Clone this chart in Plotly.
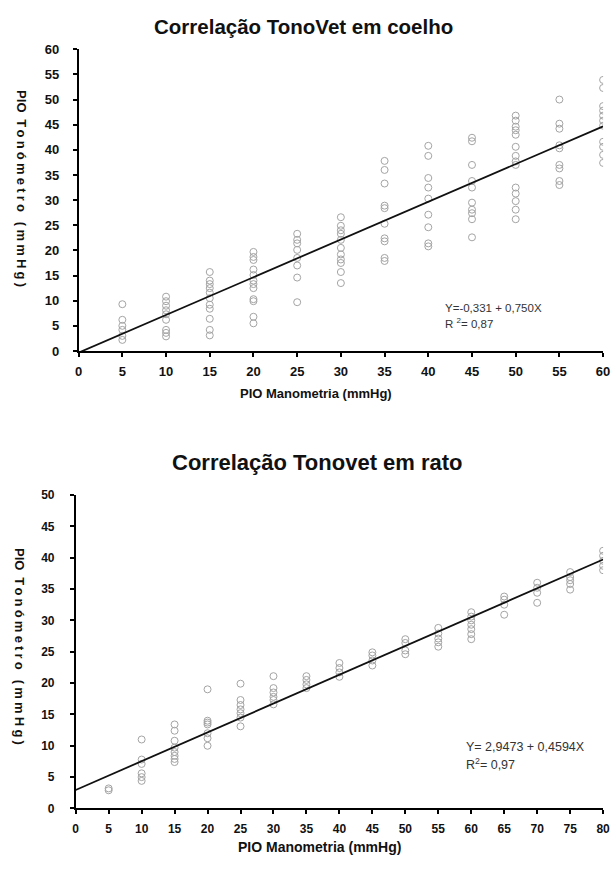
import plotly.graph_objects as go

# ---- Coelho (rabbit): manometry pressure levels and TonoVet readings ----
coelho_levels = [5, 10, 15, 20, 25, 30, 35, 40, 45, 50, 55, 60]
coelho_readings = [
    [9.3, 6.2, 5.0, 4.2, 3.0, 2.2],
    [10.8, 9.9, 9.0, 8.1, 7.3, 6.2, 4.2, 3.6, 2.9],
    [15.7, 14.0, 13.3, 12.5, 11.6, 10.5, 9.2, 8.4, 6.4, 4.2, 3.1],
    [19.7, 18.7, 18.1, 16.2, 15.1, 14.0, 13.3, 12.5, 10.3, 9.9, 6.8, 5.5],
    [23.3, 22.1, 21.4, 20.1, 18.5, 17.0, 14.6, 9.7],
    [26.6, 24.9, 24.0, 23.3, 22.1, 20.5, 19.2, 18.2, 17.5, 15.7, 13.5],
    [37.8, 36.0, 33.3, 28.9, 28.4, 25.3, 22.4, 21.8, 18.5, 17.9],
    [40.8, 38.8, 34.4, 32.5, 30.3, 27.1, 24.6, 21.4, 20.8],
    [42.4, 41.7, 37.0, 33.8, 32.5, 29.5, 28.1, 27.4, 26.2, 22.6],
    [46.8, 45.8, 44.6, 43.9, 43.0, 40.6, 38.8, 37.7, 37.0, 32.5, 31.3, 29.8, 28.1, 26.2],
    [50.0, 45.2, 44.2, 40.9, 40.3, 37.0, 36.3, 33.8, 33.0],
    [53.9, 52.3, 48.7, 47.8, 46.8, 45.8, 44.8, 41.6, 40.6, 39.0, 37.4],
]
coelho_intercept = -0.331
coelho_slope = 0.750
coelho_r2 = "0,87"

# ---- Rato (rat): manometry pressure levels and TonoVet readings ----
rato_levels = [5, 10, 15, 20, 25, 30, 35, 40, 45, 50, 55, 60, 65, 70, 75, 80]
rato_readings = [
    [3.2, 2.9],
    [11.0, 7.8, 7.1, 5.6, 5.0, 4.4],
    [13.4, 12.4, 10.8, 9.7, 9.0, 8.4, 7.9, 7.4],
    [19.0, 14.0, 13.7, 13.4, 12.0, 11.2, 10.0],
    [19.9, 17.3, 16.5, 15.8, 15.2, 14.5, 13.1],
    [21.1, 19.2, 18.5, 17.8, 17.3, 16.6],
    [21.1, 20.5, 19.8, 19.2],
    [23.2, 22.4, 21.7, 21.0],
    [24.9, 24.4, 23.6, 22.8],
    [27.0, 26.4, 25.2, 24.6],
    [28.8, 27.9, 27.1, 26.5, 25.8],
    [31.3, 30.6, 30.0, 29.3, 28.6, 27.8, 27.0],
    [33.8, 33.3, 32.5, 30.9],
    [36.0, 35.2, 34.4, 32.8],
    [37.7, 36.9, 36.4, 35.8, 34.9],
    [41.1, 40.3, 39.5, 38.7, 38.0],
]
rato_intercept = 2.9473
rato_slope = 0.4594
rato_r2 = "0,97"

W, H = 616, 872
FONT = "Liberation Sans, Arial, sans-serif"


def flatten(levels, readings):
    xs, ys = [], []
    for lv, vals in zip(levels, readings):
        xs.extend([lv] * len(vals))
        ys.extend(vals)
    return xs, ys


def px_x(p):
    return p / W


def px_y(p):
    return 1 - p / H


fig = go.Figure()

marker_style = dict(symbol="circle-open", size=7, color="#a4a4a4", line=dict(width=1, color="#a4a4a4"))

cx, cy = flatten(coelho_levels, coelho_readings)
fig.add_trace(go.Scatter(x=cx, y=cy, mode="markers", marker=marker_style,
                         xaxis="x", yaxis="y", showlegend=False, hoverinfo="x+y"))
cfit_x = [0, 60]
fig.add_trace(go.Scatter(x=cfit_x, y=[coelho_intercept + coelho_slope * v for v in cfit_x],
                         mode="lines", line=dict(color="#111111", width=1.8),
                         xaxis="x", yaxis="y", showlegend=False, hoverinfo="skip"))

rx, ry = flatten(rato_levels, rato_readings)
fig.add_trace(go.Scatter(x=rx, y=ry, mode="markers", marker=marker_style,
                         xaxis="x2", yaxis="y2", showlegend=False, hoverinfo="x+y"))
rfit_x = [0, 80]
fig.add_trace(go.Scatter(x=rfit_x, y=[rato_intercept + rato_slope * v for v in rfit_x],
                         mode="lines", line=dict(color="#111111", width=1.8),
                         xaxis="x2", yaxis="y2", showlegend=False, hoverinfo="skip"))


def axis_style(size):
    return dict(
        showline=True, linecolor="black", linewidth=1.5,
        ticks="outside", ticklen=4, tickwidth=1.5, tickcolor="black",
        showgrid=False, zeroline=False,
        tickfont=dict(family=FONT, size=size, color="#111111", weight="bold"),
        ticklabeloverflow="allow",
        fixedrange=True,
    )


fig.update_layout(
    width=W, height=H,
    margin=dict(l=0, r=0, t=0, b=0),
    paper_bgcolor="white", plot_bgcolor="white",
    xaxis=dict(domain=[px_x(76), px_x(610)], range=[0, 60], tick0=0, dtick=5,
               anchor="y", ticklabelstandoff=4, **axis_style(13)),
    yaxis=dict(domain=[px_y(350), px_y(43)], range=[0, 60], tick0=0, dtick=5,
               anchor="x", ticklabelstandoff=11, **axis_style(13)),
    xaxis2=dict(domain=[px_x(73), px_x(610)], range=[0, 80], tick0=0, dtick=5,
                anchor="y2", ticklabelstandoff=4, **axis_style(12)),
    yaxis2=dict(domain=[px_y(815.5), px_y(496.5)], range=[0, 50], tick0=0, dtick=5,
                anchor="x2", ticklabelstandoff=13, **axis_style(12)),
)


def bold(size):
    return dict(family=FONT, size=size, color="#111111", weight="bold")


def plain(size):
    return dict(family=FONT, size=size, color="#333333")


ytitle = 'PIO<span style="letter-spacing:3.2px"> Tonómetro (mmHg)</span>'

annotations = [
    # chart titles
    dict(text="Correlação TonoVet em coelho", x=px_x(305), y=px_y(20), font=bold(20.5)),
    dict(text="Correlação Tonovet em rato", x=px_x(319), y=px_y(463), font=bold(22)),
    # x-axis titles
    dict(text="PIO Manometria (mmHg)", x=px_x(318), y=px_y(393), font=bold(13)),
    dict(text="PIO Manometria (mmHg)", x=px_x(321), y=px_y(855), font=bold(14)),
    # y-axis titles (reading downwards)
    dict(text=ytitle, x=px_x(18), y=px_y(186), textangle=90, font=bold(13)),
    dict(text=ytitle, x=px_x(15), y=px_y(652), textangle=90, font=bold(13)),
    # regression equations
    dict(text="Y=-0,331 + 0,750X", x=px_x(447), y=px_y(306), xanchor="left", font=plain(11.5)),
    dict(text="R <sup>2</sup>= " + coelho_r2, x=px_x(447), y=px_y(322), xanchor="left", font=plain(11.5)),
    dict(text="Y= 2,9473 + 0,4594X", x=px_x(468), y=px_y(753), xanchor="left", font=plain(12.5)),
    dict(text="R<sup>2</sup>= " + rato_r2, x=px_x(468), y=px_y(770), xanchor="left", font=plain(12.5)),
]
for a in annotations:
    a.setdefault("xanchor", "center")
    a.setdefault("yanchor", "middle")
    a.update(xref="paper", yref="paper", showarrow=False)
fig.update_layout(annotations=annotations)

fig.write_html("out.html", config={"displayModeBar": False})
